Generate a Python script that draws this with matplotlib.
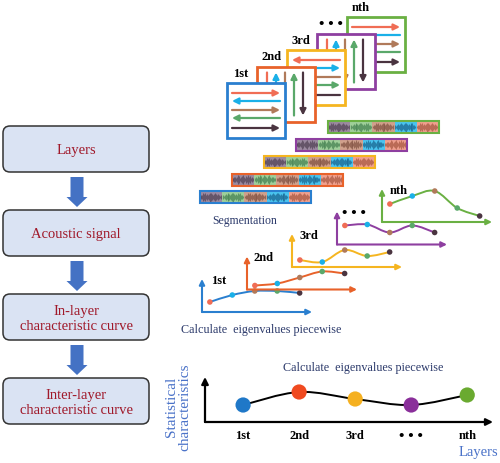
import numpy as np
import matplotlib.pyplot as plt
from matplotlib.patches import FancyBboxPatch, Rectangle, Polygon, PathPatch
from matplotlib.path import Path

plt.rcParams['font.family'] = ['Liberation Serif', 'DejaVu Serif']

# ---- data ----
flow_labels = ['Layers', 'Acoustic signal', 'In-layer\ncharacteristic curve',
               'Inter-layer\ncharacteristic curve']
layer_labels = ['1st', '2nd', '3rd', '\u2022 \u2022 \u2022', 'nth']
layer_colors = ['#2a7fcf', '#e8622a', '#f5b520', '#8e3fa0', '#6ab043']
point_colors = ['#f06d55', '#1ab0e8', '#b07a5a', '#5aa86a', '#4a3440']

# arrows drawn inside each layer square: orientation + direction of 5 arrows
square_arrows = [
    ('h', ['r', 'l', 'r', 'l', 'r']),
    ('v', ['-', 'u', '-', 'u', 'd']),
    ('h', ['l', 'r', '-', 'r', '-']),
    ('v', ['-', 'u', 'd', 'u', 'd']),
    ('h', ['r', '-', 'r', '-', 'r']),
]

# segmentation strips
seg_colors = ['#9b8aa0', '#9fcf9a', '#d0a08c', '#49c4ef', '#f0a08e']
seg_wave = ['#5a4a5e', '#4f8a5a', '#8a5a4a', '#1f6f9a', '#b0604a']
wave_env = [1.5, 2.5, 2, 4, 3, 4.5, 2.5, 3.5, 2, 3, 5, 4, 3, 2, 3.5, 4.5, 3, 2, 3, 2.5, 1.5, 2]

# in-layer characteristic curves (one per layer, 5 segments each)
curve_vals = [
    [10, 17, 21, 21, 19],
    [4, 6, 12, 18, 16],
    [7, 5, 17, 11, 15],
    [19, 20, 12, 19, 12],
    [18, 26, 31, 14, 6],
]

# inter-layer statistics
stat_vals = [17, 30, 23, 17, 27]
stat_colors = ['#1f78c8', '#f04a20', '#f5b020', '#8a2f9a', '#6aaa30']

W, H = 500, 464
fig = plt.figure(figsize=(W / 100, H / 100), dpi=100)
ax = fig.add_axes([0, 0, 1, 1])
ax.set_xlim(0, W)
ax.set_ylim(H, 0)
ax.axis('off')

red_txt = '#a0192a'
navy = '#2c3a6b'


def lab_size(s):
    return 11 if '\u2022' in s else 9


def smooth(xs, ys):
    pts = np.column_stack([xs, ys]).astype(float)
    n = len(pts)
    verts = [pts[0]]
    codes = [Path.MOVETO]
    for i in range(n - 1):
        p0 = pts[max(i - 1, 0)]
        p1 = pts[i]
        p2 = pts[i + 1]
        p3 = pts[min(i + 2, n - 1)]
        verts += [p1 + (p2 - p0) / 6, p2 - (p3 - p1) / 6, p2]
        codes += [Path.CURVE4] * 3
    return Path(verts, codes)


def inset(x0, y0, w, h):
    # pixel box (top-left origin) -> figure axes
    a = fig.add_axes([x0 / W, 1 - (y0 + h) / H, w / W, h / H])
    a.patch.set_alpha(0)
    for s in a.spines.values():
        s.set_visible(False)
    a.set_xticks([])
    a.set_yticks([])
    return a


def axis_arrows(a, color, lw, ms):
    kw = dict(arrowstyle='-|>', color=color, lw=lw, mutation_scale=ms,
              shrinkA=0, shrinkB=0)
    a.annotate('', xy=(1, 0), xytext=(0, 0), xycoords='axes fraction',
               arrowprops=kw, annotation_clip=False)
    a.annotate('', xy=(0, 1), xytext=(0, 0), xycoords='axes fraction',
               arrowprops=kw, annotation_clip=False)


# ---- left flow chart ----
box_x, box_w, box_h, box_top, box_step = 3, 146, 46, 127, 84
for i, lab in enumerate(flow_labels):
    y0 = box_top + i * box_step
    ax.add_patch(FancyBboxPatch((box_x, y0), box_w, box_h,
                                boxstyle='round,pad=0,rounding_size=7',
                                fc='#dae3f3', ec='#333333', lw=1.1))
    ax.text(box_x + box_w / 2, y0 + box_h / 2 + 1, lab, color=red_txt,
            fontsize=10.5, ha='center', va='center', linespacing=1.25)
    if i < len(flow_labels) - 1:
        cx = box_x + box_w / 2 + 1
        ya, yb = y0 + box_h + 5, y0 + box_step - 3
        hy = yb - 10
        ax.add_patch(Polygon([(cx - 6.5, ya), (cx + 6.5, ya), (cx + 6.5, hy),
                              (cx + 10.5, hy), (cx, yb), (cx - 10.5, hy),
                              (cx - 6.5, hy)], closed=True, fc='#4472c4', ec='none'))

# ---- layer squares ----
sq_w, sq_h = 58, 55
h_off = [10, 18, 27, 35, 45]
v_off = [10, 19, 28, 37, 46]
for i in reversed(range(5)):
    x0 = 227 + i * 30
    y0 = 84 - i * 16.5
    c = layer_colors[i]
    ax.add_patch(Rectangle((x0, y0), sq_w, sq_h, fc='white', ec=c, lw=2, zorder=2 + 2 * (5 - i)))
    z = 3 + 2 * (5 - i)
    orient, dirs = square_arrows[i]
    for k, d in enumerate(dirs):
        pc = point_colors[k]
        if orient == 'h':
            y = y0 + h_off[k]
            a, b = (x0 + 5, y), (x0 + 53, y)
            if d == 'l':
                a, b = b, a
        else:
            x = x0 + v_off[k]
            a, b = (x, y0 + 49), (x, y0 + 6)
            if d == 'd':
                a, b = b, a
        style = '-' if d == '-' else '-|>'
        ax.annotate('', xy=b, xytext=a, zorder=z,
                    arrowprops=dict(arrowstyle=style, color=pc, lw=1.6,
                                    mutation_scale=9, shrinkA=0, shrinkB=0))
    ax.text(x0 + 14, y0 - 10, layer_labels[i], fontsize=lab_size(layer_labels[i]),
            fontweight='bold', ha='center', va='center')

# ---- segmentation strips ----
st_w, st_h = 111, 12
for i in range(5):
    x0 = 200 + i * 32
    y0 = 192 - i * 17.5
    seg = st_w / len(seg_colors)
    for k in range(len(seg_colors)):
        sx = x0 + k * seg
        ax.add_patch(Rectangle((sx, y0), seg, st_h, fc=seg_colors[k], ec='none', zorder=3))
        env = wave_env if (k + i) % 2 == 0 else wave_env[::-1]
        xs = sx + 0.5 + np.arange(len(env)) * (seg - 1) / len(env)
        amp = np.array(env) * 0.9
        ax.vlines(xs, y0 + st_h / 2 - amp, y0 + st_h / 2 + amp,
                  color=seg_wave[k], lw=0.8, alpha=0.8, zorder=4)
    ax.add_patch(Rectangle((x0, y0), st_w, st_h, fc='none', ec=layer_colors[i], lw=1.5, zorder=5))
ax.text(245, 221, 'Segmentation', fontsize=8.5, color=navy, ha='center', va='center')

# ---- in-layer characteristic curves ----
for i, vals in enumerate(curve_vals):
    ox = 202 + i * 45
    oy = 313 - i * 22.5
    a = inset(ox, oy - 33, 110, 33)
    a.set_xlim(-0.35, 4.55)
    a.set_ylim(0, 33)
    axis_arrows(a, layer_colors[i], 1.5, 8)
    xs = np.arange(len(vals))
    a.add_patch(PathPatch(smooth(xs, vals), fc='none', ec=layer_colors[i], lw=1.4,
                          clip_on=False))
    a.scatter(xs, vals, s=16, c=point_colors, zorder=3, clip_on=False, lw=0)
    ax.text(ox + 17, oy - 32, layer_labels[i], fontsize=lab_size(layer_labels[i]),
            fontweight='bold', ha='center', va='center')
ax.text(261, 330, 'Calculate  eigenvalues piecewise', fontsize=8.7, color=navy,
        ha='center', va='center')

# ---- inter-layer statistics ----
b = inset(205, 378, 288, 45)
b.set_xlim(-0.68, 4.46)
b.set_ylim(0, 45)
axis_arrows(b, 'black', 1.6, 10)
xs = np.arange(len(stat_vals))
b.add_patch(PathPatch(smooth(xs, stat_vals), fc='none', ec='black', lw=1.4))
b.scatter(xs, stat_vals, s=120, c=stat_colors, zorder=3, lw=0)
b.set_xticks(xs, layer_labels, fontsize=9, fontweight='bold')
for t in b.get_xticklabels():
    t.set_fontsize(lab_size(t.get_text()))
b.tick_params(axis='x', length=0, pad=5)
ax.text(363, 368, 'Calculate  eigenvalues piecewise', fontsize=8.7, color=navy,
        ha='center', va='center')
ax.text(478, 453, 'Layers', fontsize=10.5, color='#4a72c8', ha='center', va='center')
ax.text(178, 407, 'Statistical\ncharacteristics', fontsize=11, color='#4a72c8',
        rotation=90, ha='center', va='center', linespacing=1.0)

fig.savefig('out.png', dpi=100)
